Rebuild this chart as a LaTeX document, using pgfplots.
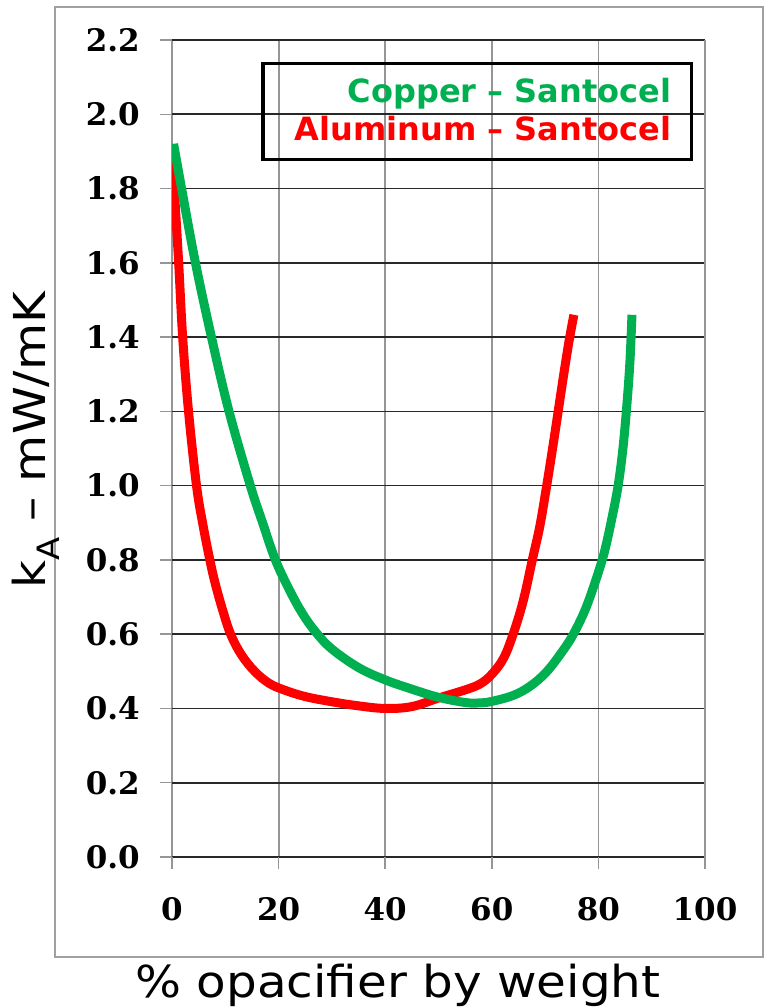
\documentclass[border=0pt]{standalone}
\usepackage{fontspec}
\setmainfont{DejaVu Sans}
\newfontfamily\tickfont{DejaVu Serif}
\newfontfamily\labfont{DejaVu Sans}[FakeStretch=1.1]
\usepackage{pgfplots}
\pgfplotsset{compat=1.18}
\definecolor{cugreen}{RGB}{0,176,80}
\definecolor{alred}{RGB}{255,0,0}
\definecolor{gridgray}{RGB}{150,150,150}
\definecolor{griddark}{RGB}{40,40,40}
\definecolor{framegray}{RGB}{160,160,160}
\begin{document}
\begin{tikzpicture}
\useasboundingbox (0pt,0pt) rectangle (764pt,1007pt);
\draw[framegray, line width=2pt] (55pt,50pt) -- (763pt,50pt) -- (763pt,1000pt) -- (55pt,1000pt) -- cycle;
\begin{axis}[
  at={(172pt,150pt)}, anchor=south west,
  scale only axis, width=533pt, height=817pt,
  xmin=0, xmax=100, ymin=0, ymax=2.2,
  xtick={0,20,40,60,80}, extra x ticks={100},
  extra x tick style={grid style={griddark, line width=1.6pt}},
  ytick={0,0.2,...,2.21},
  grid=major,
  x grid style={gridgray, line width=1.8pt},
  y grid style={griddark, line width=1.6pt},
  axis line style={draw=none},
  tick align=outside, major tick length=12pt,
  xtick pos=bottom, ytick pos=left,
  tick style={gridgray, line width=1.5pt},
  /pgf/number format/assume math mode=true,
  tick label style={font=\tickfont\bfseries\fontsize{31}{36}\selectfont, inner sep=0pt},
  y tick label style={/pgf/number format/fixed, /pgf/number format/fixed zerofill, /pgf/number format/precision=1, xshift=-20pt},
  x tick label style={yshift=-28pt},
  xlabel={\labfont\fontsize{44}{50}\selectfont \% opacifier by weight},
  xlabel style={at={(rel axis cs:0.424,-0.1714)}, anchor=base},
  ylabel={\labfont\fontsize{44}{50}\selectfont k\textsubscript{A} – mW/mK},
  ylabel style={at={(rel axis cs:-0.238,0.51)}, anchor=base},
  legend style={at={(axis cs:97.75,2.141)}, anchor=north east, draw=black, line width=3.5pt, fill=none,
    inner xsep=20pt, inner ysep=11pt, row sep=2pt,
    nodes={inner sep=0pt, text height=28pt, text depth=8pt},
    font=\bfseries\fontsize{32}{38}\selectfont},
  legend cell align=right,
  legend image code/.code={\path[draw=none, fill=none] (0pt,0pt) -- (12pt,0pt);},
  reverse legend,
]
\addplot[alred, line width=9pt, smooth, tension=0.6, line join=round] coordinates {
(0,1.92) (0.43,1.8) (1.25,1.6) (2.0,1.4) (3.1,1.2) (4.6,1.0) (5.8,0.895) (7.1,0.8) (8.1,0.737) (9.5,0.665) (11,0.6) (13,0.545) (15.5,0.5) (18.2,0.468) (21,0.45) (25,0.432) (30,0.418) (35,0.407) (40,0.40) (45,0.405) (50,0.428) (55,0.45) (57.8,0.466) (60,0.492) (62.2,0.535) (64,0.6) (65.9,0.69) (67.6,0.8) (69,0.89) (70.3,1.0) (71.4,1.1) (72.4,1.195) (73.5,1.3) (74.5,1.39) (75.4,1.46)
};
\addlegendentry{\textcolor{alred}{Aluminum – Santocel}}
\addplot[cugreen, line width=9pt, smooth, tension=0.6, line join=round] coordinates {
(0.3,1.92) (1.8,1.8) (4.4,1.6) (7.4,1.4) (10.7,1.2) (14.7,1.0) (17,0.9) (19.4,0.8) (22,0.72) (24.5,0.655) (27,0.605) (30,0.56) (35,0.51) (40,0.477) (45,0.452) (50,0.43) (55,0.416) (57.8,0.415) (60,0.419) (64,0.435) (67.2,0.46) (70.3,0.499) (73.4,0.557) (75.3,0.6) (77.5,0.665) (79.5,0.745) (81.1,0.82) (82.5,0.91) (83.7,1.0) (84.6,1.1) (85.3,1.21) (85.9,1.33) (86.3,1.46)
};
\addlegendentry{\textcolor{cugreen}{Copper – Santocel}}
\end{axis}
\end{tikzpicture}
\end{document}
